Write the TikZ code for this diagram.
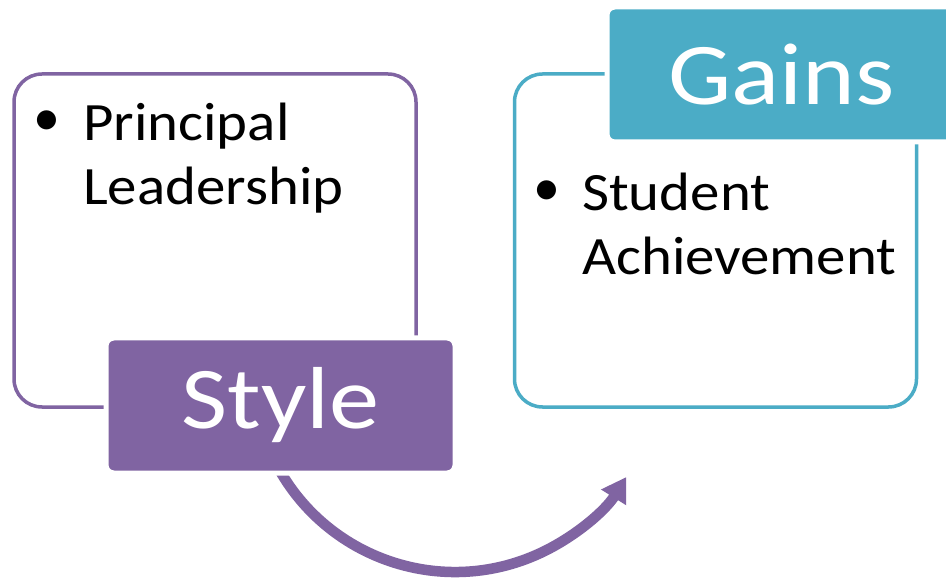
\documentclass[tikz,border=0pt]{standalone}
\usepackage{fontspec}
\setmainfont{Carlito}
\newfontfamily\bodyfont{Carlito}[FakeStretch=1.09]
\newfontfamily\titlefont{Carlito}[FakeStretch=1.14]
\usetikzlibrary{arrows.meta,calc}
\definecolor{accpurple}{HTML}{8064A2}
\definecolor{accteal}{HTML}{4BACC6}
\tikzset{
  x=1pt, y=1pt,
  panel/.style={draw=#1, line width=3.5pt, fill=white, rounded corners=28pt,
    minimum width=402pt, minimum height=333pt, inner sep=0pt},
  tab/.style={fill=#1, draw=white, line width=5pt, rounded corners=8pt,
    minimum width=349pt, minimum height=135pt, inner sep=0pt, text=white,
    font=\titlefont\fontsize{88}{100}\selectfont},
  bodytext/.style={anchor=base west, inner sep=0pt, font=\bodyfont\fontsize{54}{64}\selectfont},
  bulletdot/.style={inner sep=0pt, font=\fontsize{54}{64}\selectfont},
  flow/.style={draw=accpurple, line width=10.5pt, -{Triangle[length=24pt, width=28pt]}}
}
\begin{document}
\begin{tikzpicture}
\clip (0,0) rectangle (946,582);
\fill[white] (0,0) rectangle (946,582);
% arc connector
\coordinate (arccenter) at (455,212);
\coordinate (arcstart) at ($(arccenter)+(205:202)$);
\draw[flow] (arcstart) arc[start angle=205, end angle=328, radius=202];
% left panel
\node[panel=accpurple] (lbox) at (215,341.5) {};
\node[bulletdot] (lbul) at (47,459) {•};
\node[bodytext] (ltxt1) at (83,441) {Principal};
\node[bodytext] (ltxt2) at (83,377) {Leadership};
\node[tab=accpurple] (style) at (280.5,176.5) {Style};
% right panel
\node[panel=accteal] (rbox) at (715.5,341.5) {};
\node[bulletdot] (rbul) at (547,389) {•};
\node[bodytext] (rtxt1) at (582,371) {Student};
\node[bodytext] (rtxt2) at (582,307) {Achievement};
\node[tab=accteal] (gains) at (781.5,507.5) {Gains};
\end{tikzpicture}
\end{document}
